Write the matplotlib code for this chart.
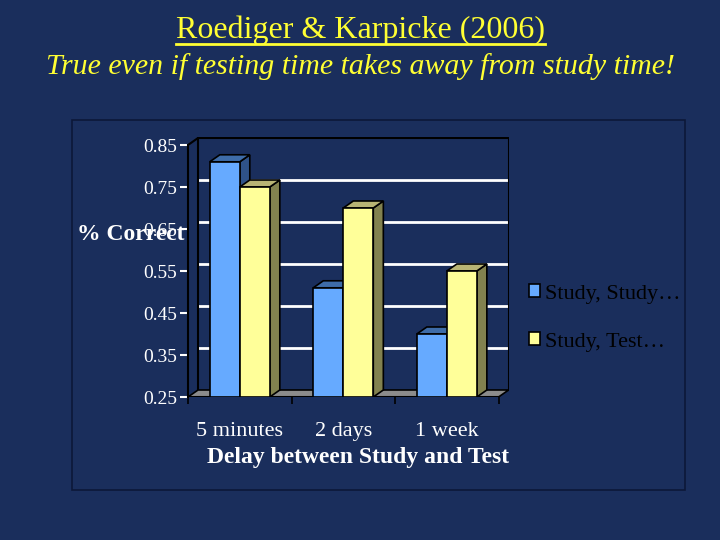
import matplotlib
matplotlib.use('Agg')
import numpy as np
import matplotlib.pyplot as plt
from matplotlib.patches import Polygon, Rectangle
from matplotlib.lines import Line2D

# data
delays = ['5 minutes', '2 days', '1 week']
study_study = [0.81, 0.51, 0.40]
study_test = [0.75, 0.70, 0.55]
series_names = ['Study, Study…', 'Study, Test…']
yticks = [0.25, 0.35, 0.45, 0.55, 0.65, 0.75, 0.85]

navy = '#1a2e5c'
blue, blue_top, blue_side = '#66aaff', '#3e6ca8', '#2f5288'
yel, yel_top, yel_side = '#ffff99', '#b8b474', '#82824f'
plt.rcParams['font.family'] = ['Liberation Serif', 'DejaVu Serif']

fig = plt.figure(figsize=(7.2, 5.4), dpi=100, facecolor=navy)

# chart frame
fig.patches.append(Rectangle((72/720, 1-490/540), (685-72)/720, (490-120)/540,
                             transform=fig.transFigure, facecolor=navy,
                             edgecolor='#0c1838', lw=1.2, zorder=-5))

ax = fig.add_axes([188/720, 1-397/540, 320.9/720, 260.4/540])
ax.set_facecolor('none')
ax.set_xlim(-0.5, 2.6)
ax.set_ylim(0.25, 0.87)
dx, dy = 0.097, 0.0167   # depth of the fake 3d look
w = 0.29
x = np.arange(len(delays))

# back wall grid + border
for v in yticks[1:-1]:
    ax.plot([-0.5+dx, 2.5+dx], [v+dy, v+dy], color='white', lw=2, zorder=1)
ax.plot([-0.5+dx, -0.5+dx, 2.5+dx, 2.5+dx], [0.25+dy, 0.85+dy, 0.85+dy, 0.25+dy],
        color='black', lw=1.5, zorder=1)
ax.plot([-0.5, -0.5+dx], [0.85, 0.85+dy], color='black', lw=1.5, zorder=1)

# floor
ax.add_patch(Polygon([(-0.5, 0.25), (2.5, 0.25), (2.5+dx, 0.25+dy), (-0.5+dx, 0.25+dy)],
                     closed=True, facecolor='#8c8c8c', edgecolor='black', lw=1.2, zorder=2))
ax.plot([-0.5, 2.5], [0.25, 0.25], color='black', lw=1.5, zorder=2)


def bars3d(lefts, vals, front, top, side, z):
    for x0, v in zip(lefts, vals):
        x1 = x0 + w
        ax.add_patch(Polygon([(x1, 0.25), (x1+dx, 0.25+dy), (x1+dx, v+dy), (x1, v)],
                             closed=True, facecolor=side, edgecolor='black', lw=1.2, zorder=z))
        ax.add_patch(Polygon([(x0, v), (x1, v), (x1+dx, v+dy), (x0+dx, v+dy)],
                             closed=True, facecolor=top, edgecolor='black', lw=1.2, zorder=z))
    return ax.bar(np.array(lefts) + w/2, np.array(vals) - 0.25, width=w, bottom=0.25,
                  color=front, edgecolor='black', lw=1.2, zorder=z)


b1 = bars3d(x - w, study_study, blue, blue_top, blue_side, 3)
b2 = bars3d(x, study_test, yel, yel_top, yel_side, 4)

# axes styling
for s in ['top', 'right', 'bottom']:
    ax.spines[s].set_visible(False)
ax.spines['left'].set_bounds(0.25, 0.85)
ax.spines['left'].set_linewidth(1.5)
ax.set_yticks(yticks, ['%.2f' % t for t in yticks])
ax.tick_params(axis='y', colors='white', labelcolor='white', labelsize=14,
               length=6, width=1.5, pad=2)
ax.set_xticks([-0.5, 0.5, 1.5, 2.5], ['', '', '', ''])
ax.tick_params(axis='x', which='major', color='black', length=5, width=1.2)
ax.set_xticks(x, delays, minor=True)
ax.tick_params(axis='x', which='minor', length=0, labelsize=16, labelcolor='white', pad=18)

fig.text(77/720, 1-235/540, '% Correct', ha='left', va='center', color='white',
         fontsize=17, fontweight='bold')
fig.text(358/720, 1-458/540, 'Delay between Study and Test', ha='center', va='center',
         color='white', fontsize=17, fontweight='bold')

fig.legend(handles=[b1, b2], labels=series_names, loc='center left',
           bbox_to_anchor=(509/720, 1-318/540), frameon=False, fontsize=16,
           labelcolor='black', handlelength=0.5, handleheight=0.5,
           handletextpad=0.2, labelspacing=1.3)

# titles
t1 = fig.text(0.5, 1-30/540, 'Roediger & Karpicke (2006)', ha='center', va='center',
              color='#ffff33', fontsize=23)
fig.text(0.5, 1-67/540, 'True even if testing time takes away from study time!',
         ha='center', va='center', color='#ffff33', fontsize=21.5, style='italic')

fig.canvas.draw()
bb = t1.get_window_extent(fig.canvas.get_renderer())
fig.lines.append(Line2D([bb.x0/720, bb.x1/720], [(bb.y0 + 1)/540, (bb.y0 + 1)/540],
                        transform=fig.transFigure, color='#ffff33', lw=2))

fig.savefig('out.png', dpi=100, facecolor=navy)
